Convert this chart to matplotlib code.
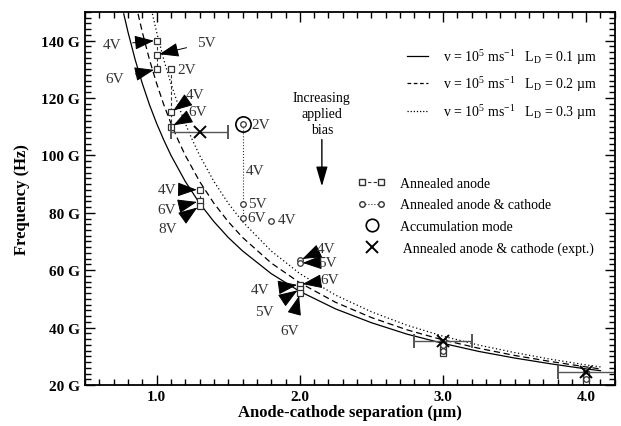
import numpy as np
import matplotlib.pyplot as plt
from matplotlib.lines import Line2D
from matplotlib.legend_handler import HandlerLine2D
from matplotlib.ticker import MultipleLocator, FuncFormatter

plt.rcParams['font.family'] = ['Liberation Serif', 'DejaVu Serif']
plt.rcParams['mathtext.fontset'] = 'custom'
plt.rcParams['mathtext.rm'] = 'Liberation Serif'
plt.rcParams['mathtext.it'] = 'Liberation Serif:italic'

# model curves (GHz vs um)
x_ld1 = [0.77, 0.8, 0.85, 0.9, 0.95, 1.0, 1.05, 1.1, 1.2, 1.3, 1.4, 1.5, 1.6, 1.8, 2.0,
         2.25, 2.5, 2.75, 3.0, 3.25, 3.5, 3.75, 4.0, 4.1]
f_ld1 = [149.3, 142.9, 133.3, 125.0, 117.6, 111.1, 105.3, 100.0, 90.9, 83.3, 76.9, 71.4, 66.7,
         58.8, 52.6, 46.5, 41.7, 37.7, 34.5, 31.7, 29.4, 27.4, 25.6, 25.0]
x_ld2 = [0.87, 0.9, 0.95, 1.0, 1.05, 1.1, 1.15, 1.2, 1.3, 1.4, 1.5, 1.6, 1.8, 2.0,
         2.25, 2.5, 2.75, 3.0, 3.25, 3.5, 3.75, 4.0, 4.1]
f_ld2 = [149.3, 142.9, 133.3, 125.0, 117.6, 111.1, 105.3, 100.0, 90.9, 83.3, 76.9, 71.4,
         62.5, 55.6, 48.8, 43.5, 39.2, 35.7, 32.8, 30.3, 28.2, 26.3, 25.6]
x_ld3 = [0.97, 1.0, 1.05, 1.1, 1.15, 1.2, 1.25, 1.3, 1.4, 1.5, 1.6, 1.8, 2.0,
         2.25, 2.5, 2.75, 3.0, 3.25, 3.5, 3.75, 4.0, 4.1]
f_ld3 = [149.3, 142.9, 133.3, 125.0, 117.6, 111.1, 105.3, 100.0, 90.9, 83.3, 76.9, 66.7,
         58.8, 51.3, 45.5, 40.8, 37.0, 33.9, 31.3, 29.0, 27.0, 26.3]

# annealed anode (squares), grouped by device
anode_groups = [
    ([1.0, 1.0, 1.0], [140, 135, 130]),
    ([1.1, 1.1, 1.1], [130, 115, 110]),
    ([1.3, 1.3, 1.3], [88, 84, 82.4]),
    ([2.0, 2.0, 2.0], [55, 53.5, 52]),
    ([3.0, 3.0, 3.0], [35, 33, 31]),
    ([4.0, 4.0, 4.0], [24, 22.5, 21]),
]
# annealed anode & cathode (circles)
both_groups = [
    ([1.6, 1.6, 1.6], [111, 83, 78.3]),
    ([1.8], [77]),
    ([2.0, 2.0], [63.5, 62.5]),
    ([3.0, 3.0], [34, 32]),
    ([4.0, 4.0], [23, 22]),
]
accum_x, accum_y = [1.6], [111]
expt_x = [1.3, 3.0, 4.0]
expt_y = [108, 35.5, 24.5]
expt_xerr = [0.2, 0.2, 0.2]

# bias labels: (text, text pos, arrow target or None)
labels = [
    ('4V', (0.69, 138.5), (1.0, 140)),
    ('5V', (1.35, 139.2), (1.0, 135)),
    ('6V', (0.71, 126.7), (1.0, 130)),
    ('2V', (1.21, 129.8), None),
    ('4V', (1.27, 121.1), (1.1, 115)),
    ('6V', (1.29, 115.2), (1.1, 110)),
    ('4V', (1.07, 88.2), (1.3, 88)),
    ('6V', (1.07, 81.3), (1.3, 84)),
    ('8V', (1.08, 74.6), (1.3, 82.4)),
    ('2V', (1.73, 110.7), None),
    ('4V', (1.69, 94.7), None),
    ('5V', (1.70, 83.2), None),
    ('6V', (1.70, 78.4), None),
    ('4V', (1.91, 77.7), None),
    ('4V', (2.18, 67.7), (2.0, 63.5)),
    ('5V', (2.19, 62.8), (2.0, 62.5)),
    ('6V', (2.21, 56.6), (2.0, 55)),
    ('4V', (1.72, 53.1), (2.0, 55)),
    ('5V', (1.755, 45.5), (2.0, 53.5)),
    ('6V', (1.93, 38.9), (2.0, 52)),
]

grey = '#333333'
fig, ax = plt.subplots(figsize=(6.21, 4.27), dpi=100)
fig.subplots_adjust(left=0.137, right=0.990, bottom=0.096, top=0.970)

ax.plot(x_ld1, f_ld1, '-', color='k', lw=0.9)
ax.plot(x_ld2, f_ld2, '--', color='k', lw=0.9, dashes=(5, 3))
ax.plot(x_ld3, f_ld3, ':', color='k', lw=0.9, dashes=(1, 2))

for gx, gy in anode_groups:
    ax.plot(gx, gy, '--', color=grey, lw=0.8, dashes=(3, 2), marker='s', ms=4,
            mfc='white', mec=grey, mew=0.9)
for gx, gy in both_groups:
    ax.plot(gx, gy, ':', color=grey, lw=0.8, marker='o', ms=4,
            mfc='white', mec=grey, mew=0.9)
ax.plot(accum_x, accum_y, 'o', ms=11, mfc='none', mec='k', mew=1.2)
ax.errorbar(expt_x, expt_y, xerr=expt_xerr, fmt='x', color='k', ms=9, mew=1.4,
            ecolor='#555555', elinewidth=1.0, capsize=5, capthick=1.0)

for txt, tpos, target in labels:
    if target is None:
        ax.text(tpos[0], tpos[1], txt, fontsize=11, ha='center', va='center', color=grey)
    else:
        ax.annotate(txt, xy=target, xytext=tpos, fontsize=11, ha='center', va='center',
                    color=grey,
                    arrowprops=dict(arrowstyle='-|>,head_length=1.1,head_width=0.4',
                                    color='k', lw=0.7, shrinkA=6, shrinkB=2))

ax.text(2.154, 122.3, 'Increasing\napplied\nbias', ha='center', va='top', fontsize=10,
        linespacing=1.3)
ax.annotate('', xy=(2.154, 89.2), xytext=(2.154, 105.5),
            arrowprops=dict(arrowstyle='-|>,head_length=1.2,head_width=0.35',
                            color='k', lw=1.0, shrinkA=0, shrinkB=0), fontsize=10)

ax.set_xlim(0.5, 4.2)
ax.set_ylim(20, 150)
ax.xaxis.set_major_locator(MultipleLocator(1.0))
ax.xaxis.set_minor_locator(MultipleLocator(0.1))
ax.yaxis.set_major_locator(MultipleLocator(20))
ax.yaxis.set_minor_locator(MultipleLocator(2))
ax.xaxis.set_major_formatter(FuncFormatter(lambda v, p: f'{v:.1f}'))
ax.yaxis.set_major_formatter(FuncFormatter(lambda v, p: f'{v:.0f} G'))
ax.tick_params(which='both', direction='in', top=True, right=True, width=1.0)
ax.tick_params(which='major', length=7, labelsize=11)
ax.tick_params(which='minor', length=4)
for lab in ax.get_xticklabels() + ax.get_yticklabels():
    lab.set_fontweight('bold')
for s in ax.spines.values():
    s.set_linewidth(1.3)

ax.set_xlabel('Anode-cathode separation (µm)', fontsize=12, fontweight='bold', labelpad=1)
ax.set_ylabel('Frequency (Hz)', fontsize=12, fontweight='bold', labelpad=8)

h1 = [Line2D([], [], color='k', lw=0.9, ls='-'),
      Line2D([], [], color='k', lw=0.9, ls='--', dashes=(3, 2)),
      Line2D([], [], color='k', lw=0.9, ls=':', dashes=(1, 1.5))]
l1 = [r'v = 10$^{5}$ ms$^{-1}$   L$_{\rm D}$ = 0.1 µm',
      r'v = 10$^{5}$ ms$^{-1}$   L$_{\rm D}$ = 0.2 µm',
      r'v = 10$^{5}$ ms$^{-1}$   L$_{\rm D}$ = 0.3 µm']
leg1 = ax.legend(h1, l1, loc='upper left', bbox_to_anchor=(0.6075, 0.906), frameon=False,
                 fontsize=10, handlelength=1.5, handletextpad=1.1, labelspacing=0.62,
                 borderpad=0, borderaxespad=0)
ax.add_artist(leg1)

accum_h = Line2D([], [], ls='none', marker='o', ms=9, mfc='none', mec='k', mew=1.2)
expt_h = Line2D([], [], ls='none', marker='x', ms=8, color='k', mew=1.4)
h2 = [Line2D([], [], color=grey, lw=0.8, ls='--', dashes=(3, 2), marker='s', ms=4,
             mfc='white', mec=grey),
      Line2D([], [], color=grey, lw=0.8, ls=':', marker='o', ms=4, mfc='white', mec=grey),
      accum_h, expt_h]
l2 = ['Annealed anode', 'Annealed anode & cathode', 'Accumulation mode',
      ' Annealed anode & cathode (expt.)']
ax.legend(h2, l2, loc='upper left', bbox_to_anchor=(0.515, 0.557), frameon=False,
          fontsize=10, numpoints=2, handlelength=2.0, handletextpad=1.0, labelspacing=0.6,
          borderpad=0, borderaxespad=0,
          handler_map={accum_h: HandlerLine2D(numpoints=1),
                       expt_h: HandlerLine2D(numpoints=1)})

plt.savefig('out.png', dpi=100)
